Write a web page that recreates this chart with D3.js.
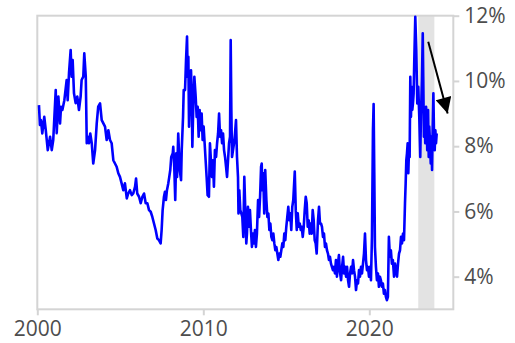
<!DOCTYPE html>
<html>
<head>
<meta charset="utf-8">
<script src="https://cdn.jsdelivr.net/npm/d3@7"></script>
<style>
  body { margin: 0; background: #fff; }
  .tick text { font-family: "Open Sans", sans-serif; font-size: 21px; fill: #4d4d4d; }
</style>
</head>
<body>
<div id="chart"></div>
<script>
// yield series, [decimal year, percent]
var yields2000s = [
  [2000.10,9.26],[2000.16,8.65],[2000.22,8.80],[2000.30,8.39],[2000.42,8.90],[2000.51,8.49],[2000.63,7.88],[2000.77,8.29],
  [2000.87,7.88],[2000.96,8.19],[2001.02,8.80],[2001.11,9.72],[2001.17,8.40],[2001.27,9.52],[2001.37,8.70],[2001.43,9.21],
  [2001.51,9.11],[2001.63,9.41],[2001.77,10.03],[2001.83,9.41],[2001.91,10.24],[2002.01,10.95],[2002.07,10.13],[2002.13,10.64],
  [2002.21,9.62],[2002.31,9.32],[2002.41,9.52],[2002.51,9.11],[2002.61,9.52],[2002.67,10.03],[2002.77,10.13],[2002.83,10.85],
  [2002.92,10.13],[2002.98,8.09],[2003.04,8.29],[2003.11,8.09],[2003.19,8.39],[2003.28,8.09],[2003.37,7.47],[2003.48,7.88],
  [2003.58,8.70],[2003.67,9.21],[2003.78,9.31],[2003.88,8.80],[2003.98,8.70],[2004.08,8.60],[2004.18,8.19],[2004.28,8.49],
  [2004.38,8.19],[2004.48,8.09],[2004.58,7.57],[2004.68,7.47],[2004.78,7.37],[2004.88,7.17],[2004.98,7.06],[2005.08,6.86],
  [2005.18,6.65],[2005.28,6.86],[2005.39,6.40],[2005.48,6.55],[2005.58,6.65],[2005.69,6.50],[2005.78,6.55],[2005.89,6.76],
  [2005.95,7.01],[2006.02,6.55],[2006.13,6.45],[2006.23,6.25],[2006.33,6.45],[2006.43,6.55],[2006.53,6.25],[2006.63,6.25],
  [2006.73,6.04],[2006.83,5.99],[2006.93,5.83],[2007.03,5.63],[2007.13,5.43],[2007.23,5.17],[2007.33,5.12],[2007.43,5.02],
  [2007.49,5.43],[2007.55,6.04],[2007.63,6.45],[2007.69,6.60],[2007.75,6.35],[2007.81,6.65],[2007.89,6.86],[2007.95,7.06],
  [2008.01,7.27],[2008.07,7.67],[2008.16,7.78],[2008.19,7.98],[2008.25,7.37],[2008.31,6.35],[2008.37,7.78],[2008.42,7.06],
  [2008.49,8.39],[2008.58,7.27],[2008.66,6.96],[2008.70,7.88],[2008.78,8.90],[2008.82,9.72],[2008.90,9.72],[2008.96,10.64],
  [2009.02,11.36],[2009.06,10.13],[2009.10,10.74],[2009.14,8.60],[2009.20,9.72],[2009.26,10.33],[2009.30,9.62],[2009.34,7.98],
  [2009.40,9.31],[2009.46,10.13],[2009.54,9.52],[2009.60,8.90],[2009.66,9.21],[2009.72,8.29],[2009.78,9.11],[2009.84,8.49],
  [2009.90,9.00],[2009.96,8.19]
];

var yields2010s = [
  [2010.02,8.60],[2010.08,8.09],[2010.14,7.57],[2010.20,7.06],[2010.26,6.50],[2010.34,6.45],[2010.40,8.09],[2010.46,7.57],
  [2010.52,7.06],[2010.58,7.57],[2010.64,6.76],[2010.70,7.88],[2010.77,7.67],[2010.83,8.09],[2010.89,8.39],[2010.95,9.00],
  [2011.01,8.29],[2011.07,8.49],[2011.13,8.09],[2011.19,8.39],[2011.25,7.88],[2011.31,7.67],[2011.37,7.37],[2011.43,7.06],
  [2011.49,7.57],[2011.55,8.09],[2011.61,8.29],[2011.65,11.25],[2011.69,9.11],[2011.73,7.67],[2011.79,7.88],[2011.85,8.09],
  [2011.91,8.39],[2011.97,8.80],[2012.03,7.67],[2012.09,7.06],[2012.12,5.94],[2012.17,6.65],[2012.23,6.04],[2012.29,5.94],
  [2012.35,5.83],[2012.41,5.22],[2012.47,7.06],[2012.53,6.04],[2012.59,5.02],[2012.63,5.32],[2012.69,6.14],[2012.75,5.53],
  [2012.81,6.04],[2012.87,5.43],[2012.93,4.91],[2012.99,5.32],[2013.05,5.02],[2013.11,5.43],[2013.17,4.91],[2013.23,5.32],
  [2013.30,6.35],[2013.36,5.83],[2013.42,6.45],[2013.48,7.37],[2013.52,7.47],[2013.55,6.65],[2013.61,7.17],[2013.67,5.94],
  [2013.73,7.27],[2013.80,6.35],[2013.86,5.83],[2013.92,5.94],[2013.98,5.43],[2014.04,5.63],[2014.10,5.22],[2014.16,5.12],
  [2014.22,5.32],[2014.28,5.02],[2014.34,4.81],[2014.40,4.91],[2014.46,4.71],[2014.52,4.51],[2014.58,4.71],[2014.64,4.61],
  [2014.70,4.81],[2014.76,5.02],[2014.82,4.91],[2014.88,5.32],[2014.94,5.12],[2015.00,5.53],[2015.06,5.83],[2015.12,6.14],
  [2015.18,5.73],[2015.24,5.94],[2015.30,5.43],[2015.36,6.14],[2015.42,6.35],[2015.51,7.22],[2015.57,6.04],[2015.63,5.43],
  [2015.69,5.94],[2015.75,5.53],[2015.81,5.63],[2015.87,5.43],[2015.93,5.53],[2015.99,5.22],[2016.05,5.53],[2016.11,6.04],
  [2016.17,6.45],[2016.23,6.25],[2016.29,5.53],[2016.35,5.73],[2016.41,5.32],[2016.47,5.63],[2016.53,5.32],[2016.59,6.04],
  [2016.65,5.73],[2016.71,5.12],[2016.77,5.02],[2016.83,4.71],[2016.91,5.73],[2016.97,6.14],[2017.03,5.63],[2017.09,5.63],
  [2017.15,5.53],[2017.21,5.22],[2017.27,5.32],[2017.33,4.91],[2017.39,5.02],[2017.45,4.81],[2017.51,4.71],[2017.57,4.51],
  [2017.63,4.61],[2017.69,4.40],[2017.75,4.30],[2017.81,4.20],[2017.87,4.30],[2017.93,4.10],[2017.99,4.51],[2018.05,4.00],
  [2018.11,4.40],[2018.17,4.66],[2018.23,4.15],[2018.30,3.89],[2018.36,4.30],[2018.42,4.61],[2018.48,4.10],[2018.54,4.30],
  [2018.60,4.00],[2018.66,4.30],[2018.72,3.89],[2018.78,3.69],[2018.84,4.10],[2018.90,4.30],[2018.96,4.10],[2019.02,4.51],
  [2019.08,4.20],[2019.14,4.00],[2019.20,3.59],[2019.26,3.89],[2019.32,3.79],[2019.38,4.20],[2019.44,4.00],[2019.50,4.30],
  [2019.56,4.10],[2019.62,4.40],[2019.68,4.71],[2019.74,5.32],[2019.80,4.51],[2019.86,4.20],[2019.92,4.30],[2019.98,4.00]
];

var yields2020s = [
  [2020.04,4.30],[2020.10,3.89],[2020.16,5.22],[2020.22,8.49],[2020.26,9.29],[2020.30,7.17],[2020.34,4.91],[2020.40,4.30],
  [2020.46,3.89],[2020.52,4.10],[2020.58,3.69],[2020.64,4.00],[2020.70,3.89],[2020.76,3.69],[2020.82,3.79],[2020.88,3.48],
  [2020.94,3.59],[2021.00,3.38],[2021.06,3.28],[2021.12,3.38],[2021.18,5.22],[2021.24,4.61],[2021.30,4.81],[2021.36,4.40],
  [2021.42,4.51],[2021.49,4.00],[2021.55,4.40],[2021.61,4.20],[2021.67,4.00],[2021.73,4.40],[2021.79,4.71],[2021.85,4.81],
  [2021.91,5.22],[2021.97,5.02],[2022.03,5.32],[2022.09,5.12],[2022.15,6.25],[2022.19,6.86],[2022.23,7.57],[2022.27,7.78],
  [2022.31,8.09],[2022.35,7.17],[2022.39,7.88],[2022.43,7.67],[2022.47,10.13],[2022.51,8.90],[2022.55,9.82],[2022.59,9.11],
  [2022.63,9.31],[2022.67,9.62],[2022.71,10.64],[2022.77,11.97],[2022.83,10.95],[2022.89,9.31],[2022.95,9.82],[2023.01,8.90],
  [2023.07,7.67],[2023.11,8.90],[2023.17,10.03],[2023.22,11.46],[2023.25,10.13],[2023.29,8.29],[2023.33,9.11],[2023.37,8.09],
  [2023.42,9.21],[2023.46,8.60],[2023.49,7.88],[2023.54,9.11],[2023.58,7.67],[2023.61,8.60],[2023.66,8.09],[2023.70,7.47],
  [2023.73,8.29],[2023.78,7.27],[2023.82,8.60],[2023.86,9.62],[2023.90,8.29],[2023.94,7.88],[2023.98,8.49],[2024.02,8.09],
  [2024.06,8.39]
];

var xTicks = [2000, 2010, 2020];
var yTicks = [4, 6, 8, 10, 12];
var shadedPeriod = [2022.95, 2023.92];
var arrowFrom = [2023.55, 11.2],
    arrowTo = [2024.72, 9.0];

var series = yields2000s.concat(yields2010s, yields2020s);

var margin = { top: 15.7, right: 61.7, bottom: 33.7, left: 37.3 },
    width = 515 - margin.left - margin.right,
    height = 343 - margin.top - margin.bottom;

var svg = d3.select("#chart")
    .append("svg")
    .attr("width", 515)
    .attr("height", 343)
    .append("g")
    .attr("transform", "translate(" + margin.left + "," + margin.top + ")");

var x = d3.scaleLinear().domain([2000, 2025.06]).range([0, width]);
var y = d3.scaleLinear().domain([3, 12]).range([height, 0]);

// shaded period
svg.append("rect")
    .attr("x", x(shadedPeriod[0]))
    .attr("y", 0)
    .attr("width", x(shadedPeriod[1]) - x(shadedPeriod[0]))
    .attr("height", height)
    .style("fill", "#e3e3e3");

// axes
var xAxis = svg.append("g")
    .attr("transform", "translate(0," + height + ")")
    .call(d3.axisBottom(x).tickValues(xTicks).tickFormat(d3.format("d")).tickSize(6).tickPadding(6));
var yAxis = svg.append("g")
    .attr("transform", "translate(" + width + ",0)")
    .call(d3.axisRight(y).tickValues(yTicks).tickFormat(d => d + "%").tickSize(6).tickPadding(5));
svg.selectAll(".domain").remove();
svg.selectAll(".tick line").style("stroke", "#d4d4d4").style("stroke-width", 2);

// frame
svg.append("rect")
    .attr("width", width)
    .attr("height", height)
    .style("fill", "none")
    .style("stroke", "#d4d4d4")
    .style("stroke-width", 2);

// the yield line
svg.append("path")
    .datum(series)
    .attr("d", d3.line().x(d => x(d[0])).y(d => y(d[1])))
    .style("fill", "none")
    .style("stroke", "#0000ff")
    .style("stroke-width", 2.6)
    .style("stroke-linejoin", "round");

// arrow annotation
svg.append("defs").append("marker")
    .attr("id", "head")
    .attr("viewBox", "0 0 10 10")
    .attr("refX", 10)
    .attr("refY", 5)
    .attr("markerUnits", "userSpaceOnUse")
    .attr("markerWidth", 17)
    .attr("markerHeight", 16)
    .attr("orient", "auto")
    .append("path")
    .attr("d", "M0,0L10,5L0,10Z")
    .style("fill", "#000");

svg.append("line")
    .attr("x1", x(arrowFrom[0]))
    .attr("y1", y(arrowFrom[1]))
    .attr("x2", x(arrowTo[0]))
    .attr("y2", y(arrowTo[1]))
    .style("stroke", "#000")
    .style("stroke-width", 2)
    .attr("marker-end", "url(#head)");
</script>
</body>
</html>
